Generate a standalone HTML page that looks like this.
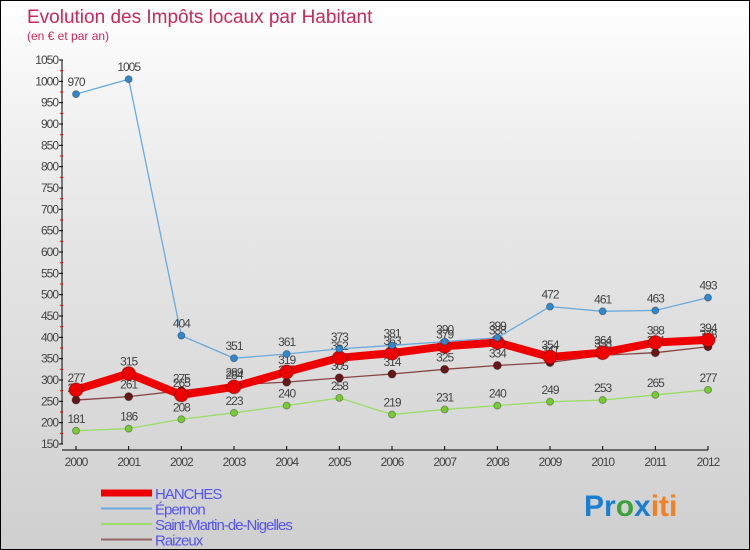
<!DOCTYPE html>
<html><head><meta charset="utf-8"><style>
body{margin:0}
#c{width:750px;height:550px;position:relative;overflow:hidden;background:linear-gradient(#fff 0%,#e9e9e9 35%,#cfcfcf 100%);box-sizing:border-box;border:1px solid #000;font-family:"Liberation Sans",sans-serif}
svg text{font-family:"Liberation Sans",sans-serif}
</style></head><body>
<div id="c">
<svg id="s" width="750" height="550">
<text x="26" y="22" font-size="19" fill="#c8285a">Evolution des Impôts locaux par Habitant</text>
<text x="26" y="39" font-size="12" fill="#c8285a">(en € et par an)</text>
<g id="axes"></g><g id="series"></g><g id="legend"></g>
<text x="583" y="515" font-size="30" font-weight="bold"><tspan fill="#1a7fd0">Pr</tspan><tspan fill="#3aa23a">o</tspan><tspan fill="#1a7fd0">x</tspan><tspan fill="#f08020">iti</tspan></text>
</svg></div>
<script>
const years=[2000,2001,2002,2003,2004,2005,2006,2007,2008,2009,2010,2011,2012];
const yTicks=[150,200,250,300,350,400,450,500,550,600,650,700,750,800,850,900,950,1000,1050];
const hanches=[277,315,265,284,319,352,363,379,388,354,364,388,394];
const epernon=[970,1005,404,351,361,373,381,390,399,472,461,463,493];
const stMartin=[181,186,208,223,240,258,219,231,240,249,253,265,277];
const raizeux=[253,261,275,289,295,305,314,325,334,341,358,364,378];
const NS="http://www.w3.org/2000/svg";
const X=i=>75+i*(632/12);
const Y=v=>59+(1050-v)*(384/900);
function mk(p,t,a){const e=document.createElementNS(NS,t);for(const k in a)e.setAttribute(k,a[k]);p.appendChild(e);return e;}
const ax=document.getElementById('axes');
let l=mk(ax,'line',{x1:61,y1:59,x2:61,y2:443,stroke:'#000'});


l=mk(ax,'line',{x1:61,y1:449,x2:707,y2:449,stroke:'#000'});


yTicks.forEach(v=>{
 const y=Y(v);
 mk(ax,'line',{x1:58,y1:y,x2:62,y2:y,stroke:'#000'});
 mk(ax,'line',{x1:59,y1:y+10.7,x2:62,y2:y+10.7,stroke:v>150?'#e00':'none'});
 const t=mk(ax,'text',{x:57,y:y+4,'font-size':12,'text-anchor':'end',fill:'#444','letter-spacing':'-1'});
 t.textContent=v;
 
 
});
years.forEach((yr,i)=>{
 const x=X(i);
 mk(ax,'line',{x1:x,y1:445,x2:x,y2:449,stroke:'#000'});
 const t=mk(ax,'text',{x:x,y:465,'font-size':12,'text-anchor':'middle',fill:'#444','letter-spacing':'-1'});
 t.textContent=yr;
 
 
});
const sg=document.getElementById('series');
function series(name,data,color,dot,w,r){
 const g=mk(sg,'g',{});
 
 
 const pl=mk(g,'polyline',{points:data.map((v,i)=>X(i)+','+Y(v)).join(' '),fill:'none',stroke:color,'stroke-width':w,'stroke-linejoin':'round'});
 
 
 data.forEach((v,i)=>{
  const c=mk(g,'circle',{cx:X(i),cy:Y(v),r:r,fill:dot,stroke:'rgba(0,0,0,0.3)'});
  
  
  const t=mk(g,'text',{x:X(i),y:Y(v)-8,'font-size':12,'text-anchor':'middle',fill:'#444','letter-spacing':'-1'});
  t.textContent=v;
  
  
 });
}
series('saint-martin',stMartin,'#99dd66','#77cc33',1.3,3.5);
series('raizeux',raizeux,'#884444','#661818',1.3,4);
series('hanches',hanches,'#ee0000','#ee0000',8,7);
series('epernon',epernon,'#6aaadd','#3388cc',1.3,3.5);
const lg=document.getElementById('legend');
[['HANCHES','#ee0000',7],['Épernon','#6aaadd',2],['Saint-Martin-de-Nigelles','#99dd66',2],['Raizeux','#996666',2]].forEach((d,i)=>{
 const y=492+i*15.5;
 const g=mk(lg,'g',{});
 
 
 mk(g,'line',{x1:100,y1:y,x2:151,y2:y,stroke:d[1],'stroke-width':d[2]});
 const t=mk(g,'text',{x:154,y:y+6,'font-size':15,fill:'#5555ee','letter-spacing':'-1'});
 t.textContent=d[0];
});
</script>
</body></html>
